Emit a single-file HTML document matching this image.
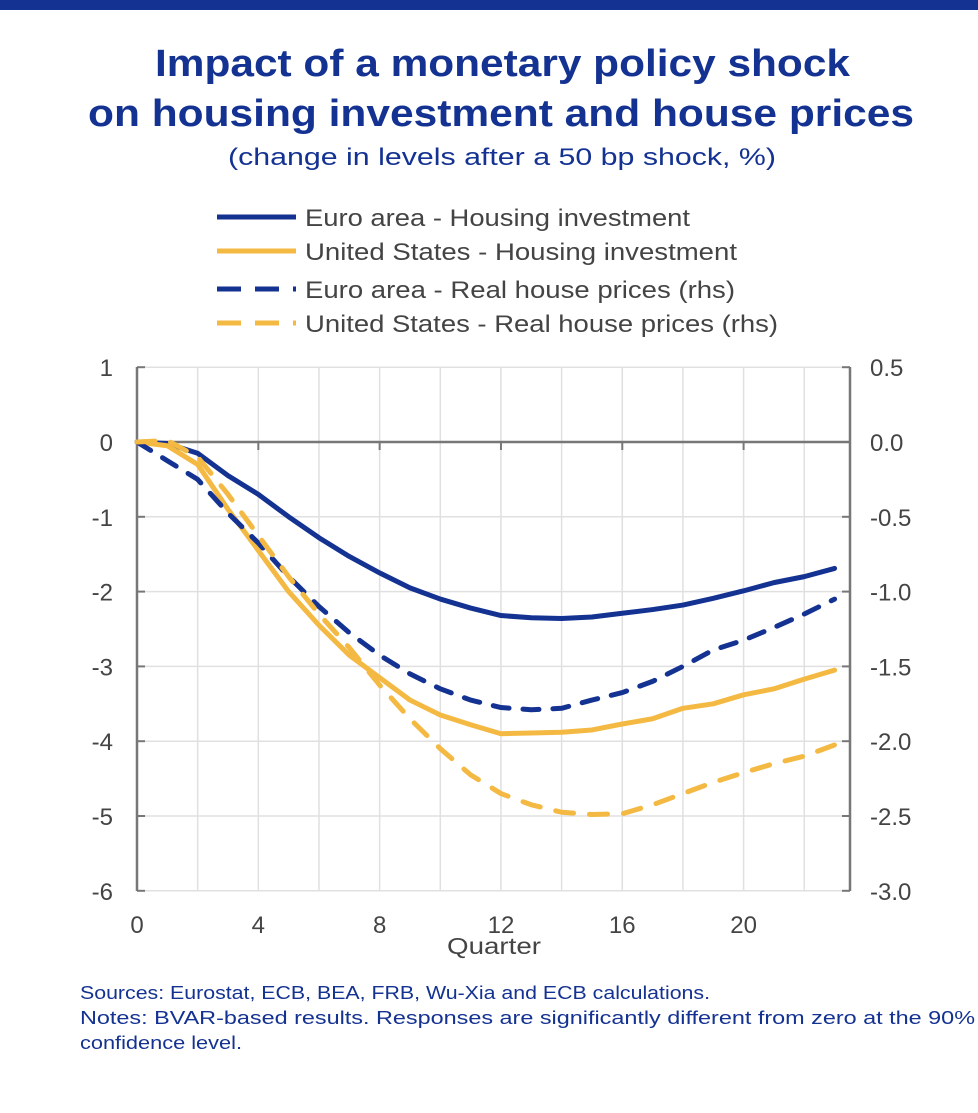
<!DOCTYPE html>
<html><head><meta charset="utf-8"><style>
body{margin:0;width:978px;height:1108px;background:#fff;font-family:"Liberation Sans",sans-serif;overflow:hidden}
</style></head><body>
<svg width="978" height="1108" xmlns="http://www.w3.org/2000/svg">
<rect x="0" y="0" width="978" height="10" fill="#143291"/>
<text x="155" y="76" textLength="695" lengthAdjust="spacingAndGlyphs" font-size="38" font-weight="bold" fill="#143291">Impact of a monetary policy shock</text>
<text x="88" y="126" textLength="826" lengthAdjust="spacingAndGlyphs" font-size="38" font-weight="bold" fill="#143291">on housing investment and house prices</text>
<text x="228" y="165" textLength="548" lengthAdjust="spacingAndGlyphs" font-size="24" fill="#143291">(change in levels after a 50 bp shock, %)</text>
<g id="legend"></g>
<g id="grid"></g>
<g id="axes"></g>
<g id="series"></g>
<text x="447" y="954" textLength="94" lengthAdjust="spacingAndGlyphs" font-size="23" fill="#444">Quarter</text>
<text x="80" y="999" textLength="630" lengthAdjust="spacingAndGlyphs" font-size="18" fill="#143291">Sources: Eurostat, ECB, BEA, FRB, Wu-Xia and ECB calculations.</text>
<text x="80" y="1024" textLength="895" lengthAdjust="spacingAndGlyphs" font-size="18" fill="#143291">Notes: BVAR-based results. Responses are significantly different from zero at the 90%</text>
<text x="80" y="1049" textLength="162" lengthAdjust="spacingAndGlyphs" font-size="18" fill="#143291">confidence level.</text>
</svg>
<script>
const quarters=[0,1,2,3,4,5,6,7,8,9,10,11,12,13,14,15,16,17,18,19,20,21,22,23];
const eaHousing=[0,-0.02,-0.15,-0.45,-0.7,-1.0,-1.28,-1.53,-1.75,-1.95,-2.1,-2.22,-2.32,-2.35,-2.36,-2.34,-2.29,-2.24,-2.18,-2.09,-1.99,-1.88,-1.8,-1.69];
const usHousing=[0,-0.05,-0.3,-0.9,-1.45,-2.0,-2.45,-2.85,-3.15,-3.45,-3.65,-3.78,-3.9,-3.89,-3.88,-3.85,-3.77,-3.7,-3.56,-3.5,-3.38,-3.3,-3.17,-3.05];
const eaPrices=[0,-0.125,-0.25,-0.475,-0.675,-0.9,-1.1,-1.275,-1.425,-1.55,-1.65,-1.725,-1.775,-1.79,-1.78,-1.725,-1.675,-1.6,-1.5,-1.39,-1.325,-1.24,-1.15,-1.05];
const usPrices=[0,0.01,-0.1,-0.35,-0.625,-0.9,-1.15,-1.375,-1.625,-1.85,-2.05,-2.225,-2.35,-2.425,-2.475,-2.49,-2.485,-2.425,-2.35,-2.275,-2.21,-2.15,-2.1,-2.025];
const leftTicks=[1,0,-1,-2,-3,-4,-5,-6];
const rightTicks=["0.5","0.0","-0.5","-1.0","-1.5","-2.0","-2.5","-3.0"];
const xTicks=[0,4,8,12,16,20];
const seriesNames=["Euro area - Housing investment","United States - Housing investment","Euro area - Real house prices (rhs)","United States - Real house prices (rhs)"];

const NS="http://www.w3.org/2000/svg";
const X0=137,XS=30.33,Y0=442,YS=74.8,RX=850,YT=367,YB=891;
const xs=q=>X0+q*XS, yl=v=>Y0-v*YS, yr=v=>Y0-v*2*YS;
function mk(tag,attrs,parent,text){const e=document.createElementNS(NS,tag);for(const k in attrs)e.setAttribute(k,attrs[k]);if(text!==undefined)e.textContent=text;parent.appendChild(e);return e;}
const grid=document.getElementById('grid'),axes=document.getElementById('axes'),ser=document.getElementById('series'),leg=document.getElementById('legend');
for(let q=2;q<=22;q+=2){const l=mk('line',{x1:xs(q),x2:xs(q),y1:YT,y2:YB,stroke:'#e0e0e0','stroke-width':1.5},grid);

}
leftTicks.forEach(v=>{const l=mk('line',{x1:X0,x2:RX,y1:yl(v),y2:yl(v),stroke:'#e0e0e0','stroke-width':1.5},grid);


mk('line',{x1:X0,x2:X0+8,y1:yl(v),y2:yl(v),stroke:'#777','stroke-width':2},axes);
mk('line',{x1:RX-8,x2:RX,y1:yl(v),y2:yl(v),stroke:'#777','stroke-width':2},axes);
const t=mk('text',{x:113,y:yl(v)+9,'text-anchor':'end','font-size':24,fill:'#444'},axes,String(v));

});
rightTicks.forEach((s,i)=>{const t=mk('text',{x:870,y:yl(leftTicks[i])+9,'font-size':24,fill:'#444'},axes,s);

});
const la=mk('line',{x1:X0,x2:X0,y1:YT,y2:YB,stroke:'#777','stroke-width':2.5},axes);


const ra=mk('line',{x1:RX,x2:RX,y1:YT,y2:YB,stroke:'#777','stroke-width':2.5},axes);


const za=mk('line',{x1:X0,x2:RX,y1:Y0,y2:Y0,stroke:'#777','stroke-width':2.5},axes);


xTicks.forEach(q=>{mk('line',{x1:xs(q),x2:xs(q),y1:Y0,y2:Y0+8,stroke:'#777','stroke-width':2},axes);
const t=mk('text',{x:xs(q),y:933,'text-anchor':'middle','font-size':24,fill:'#444'},axes,String(q));

});
const blue='#143291',gold='#f4b942';
const defs=[[eaHousing,yl,blue,null],[usHousing,yl,gold,null],[eaPrices,yr,blue,'16 14'],[usPrices,yr,gold,'18 16']];
const names=['line-ea-housing','line-us-housing','line-ea-prices','line-us-prices'];
const legLens=[385,432,430,473];
defs.forEach((d,i)=>{const pts=quarters.map((q,j)=>xs(q)+','+d[1](d[0][j])).join(' ');
const a={points:pts,fill:'none',stroke:d[2],'stroke-width':5,'stroke-linejoin':'round','stroke-linecap':'round'};
if(d[3])a['stroke-dasharray']=d[3];
const p=mk('polyline',a,ser);


const ly=[217,251,289,323][i];
const la={x1:217,x2:296,y1:ly,y2:ly,stroke:d[2],'stroke-width':5};
if(d[3])la['stroke-dasharray']='24 14';
mk('line',la,leg);
const t=mk('text',{x:305,y:ly+9,'font-size':24,fill:'#444',textLength:legLens[i],lengthAdjust:'spacingAndGlyphs'},leg,seriesNames[i]);

});
</script>
</body></html>
